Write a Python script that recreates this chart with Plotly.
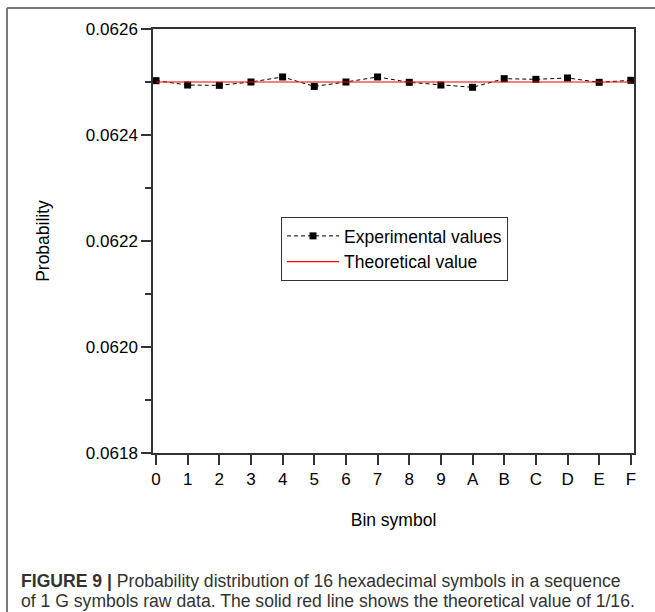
import plotly.graph_objects as go

# Hexadecimal bin symbols and the measured probability of each
symbols = ["0", "1", "2", "3", "4", "5", "6", "7", "8", "9", "A", "B", "C", "D", "E", "F"]
experimental = [0.0625025, 0.0624943, 0.0624937, 0.0625000, 0.0625095, 0.0624917,
                0.0625000, 0.0625095, 0.0624994, 0.0624943, 0.0624900, 0.0625063,
                0.0625050, 0.0625076, 0.0624994, 0.0625032]
theoretical = [1 / 16] * len(symbols)

y_ticks = [0.0618, 0.0620, 0.0622, 0.0624, 0.0626]
x_pos = list(range(len(symbols)))

W, H = 655, 612
L, R, T, B = 153, 21, 29, 159
pw, ph = W - L - R, H - T - B

def px(x):
    return (x - L) / pw

def py(y):
    return (H - B - y) / ph

FONT = "Liberation Sans, Arial"

fig = go.Figure()
fig.add_trace(go.Scatter(
    x=x_pos, y=experimental, mode="lines+markers", name="Experimental values",
    line=dict(color="black", width=1, dash="4px,3px"),
    marker=dict(symbol="square", size=7, color="black"),
))
fig.add_trace(go.Scatter(
    x=x_pos, y=theoretical, mode="lines", name="Theoretical value",
    line=dict(color="red", width=1.2),
))

title_font = dict(family=FONT, size=17.5, color="black")

fig.update_layout(
    width=W, height=H,
    margin=dict(l=L, r=R, t=T, b=B),
    paper_bgcolor="white", plot_bgcolor="white",
    font=dict(family=FONT, size=17, color="black"),
    showlegend=True,
    legend=dict(
        x=px(281), y=py(249), xanchor="left", yanchor="middle",
        bordercolor="#333", borderwidth=1, bgcolor="white",
        font=dict(family=FONT, size=17.5, color="black"),
        tracegroupgap=0, itemwidth=52,
    ),
    xaxis=dict(
        range=[-0.095, 15.1], tickmode="array", tickvals=x_pos, ticktext=symbols,
        showgrid=False, zeroline=False, showline=True, mirror=True,
        linecolor="#333", linewidth=1.5, ticks="outside", ticklen=10,
        tickcolor="#333", tickwidth=1.5,
        title=dict(text="Bin symbol", font=title_font, standoff=26),
    ),
    yaxis=dict(
        range=[0.0618, 0.0626], tickmode="array", tickvals=y_ticks,
        ticktext=[f"{v:.4f}" for v in y_ticks],
        showgrid=False, zeroline=False, showline=True, mirror=True,
        linecolor="#333", linewidth=1.5, ticks="outside", ticklen=10,
        tickcolor="#333", tickwidth=1.5,
        minor=dict(dtick=0.0001, tick0=0.0618, ticks="outside", ticklen=6,
                   tickcolor="#333", tickwidth=1.5, showgrid=False),
        title=dict(text="Probability", font=title_font, standoff=32),
    ),
    shapes=[
        dict(type="line", xref="paper", yref="paper", x0=px(7), x1=px(655), y0=py(8), y1=py(8),
             line=dict(color="#7a7a7a", width=2)),
        dict(type="line", xref="paper", yref="paper", x0=px(7), x1=px(7), y0=py(8), y1=py(612),
             line=dict(color="#7a7a7a", width=2)),
    ],
    annotations=[
        dict(xref="paper", yref="paper", x=px(19), y=py(581), xanchor="left", yanchor="middle",
             showarrow=False, align="left",
             text="<b>FIGURE 9 |</b> Probability distribution of 16 hexadecimal symbols in a sequence",
             font=dict(family=FONT, size=17.6, color="#333")),
        dict(xref="paper", yref="paper", x=px(19), y=py(601), xanchor="left", yanchor="middle",
             showarrow=False, align="left",
             text="of 1 G symbols raw data. The solid red line shows the theoretical value of 1/16.",
             font=dict(family=FONT, size=17.6, color="#333")),
    ],
)
fig.update_xaxes(tickfont_size=17)
fig.update_yaxes(tickfont_size=17)

fig.write_html("out.html")
